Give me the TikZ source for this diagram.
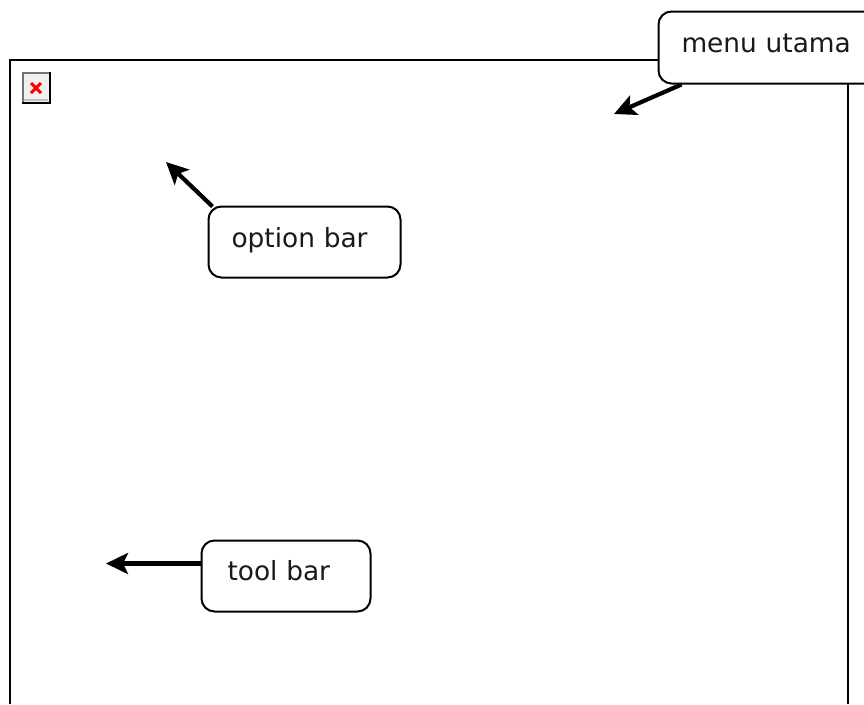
\documentclass[tikz,border=0pt]{standalone}
\usepackage{fontspec}
\setmainfont{DejaVu Sans}
\usetikzlibrary{arrows.meta,calc}
\tikzset{
  x=1pt,y=-1pt,
  frameline/.style={line width=2pt,black},
  callout/.style={draw=black,line width=2pt,fill=white,rounded corners=13pt,inner ysep=0pt,anchor=north west,align=left,font=\fontsize{26.4}{30}\selectfont,text=black!90},
  pointer/.style={line width=4.2pt,black,-{Stealth[length=22pt,width=21pt,inset=5pt]}},
}
\begin{document}
\begin{tikzpicture}
\useasboundingbox (0,0) rectangle (864,704);
\fill[white] (0,0) rectangle (864,704);
% main frame
\coordinate (fbl) at (9.5,704);
\coordinate (ftl) at (9.5,59.5);
\coordinate (ftr) at (847.5,59.5);
\coordinate (fbr) at (847.5,704);
\draw[frameline] (fbl) -- (ftl) -- (ftr) -- (fbr);
% broken image icon
\fill[black!6] (23,73) rectangle (49,102);
\draw[line width=2pt,black!55] (22.5,102) -- (22.5,73) -- (49,73);
\draw[line width=2pt,black!25] (24,100) -- (48,100);
\draw[line width=2pt,black] (22,102.5) -- (49.5,102.5) -- (49.5,72);
\draw[line width=3pt,red] (31,83) -- (41,93) (41,83) -- (31,93);
% callouts
\node[callout,inner xsep=23pt,text width=206pt,text height=41pt,text depth=31pt] (menu) at (657.5,10.5) {menu utama};
\node[callout,inner xsep=23pt,text width=146pt,text height=40.5pt,text depth=30.5pt] (opt) at (207.5,205.5) {option bar};
\node[callout,inner xsep=26pt,text width=117pt,text height=39.5pt,text depth=31.5pt] (tool) at (200.5,539.5) {tool bar};
% free ends
\coordinate (menuend) at (614,114);
\coordinate (optend) at (166,162);
\coordinate (toolend) at (106,563.5);
% pointers
\draw[pointer] ($(menu.south west)+(24,0)$) -- (menuend);
\draw[pointer] ($(opt.north west)+(5,1)$) -- (optend);
\draw[pointer] ($(tool.north west)+(0,24)$) -- (toolend);
\end{tikzpicture}
\end{document}
